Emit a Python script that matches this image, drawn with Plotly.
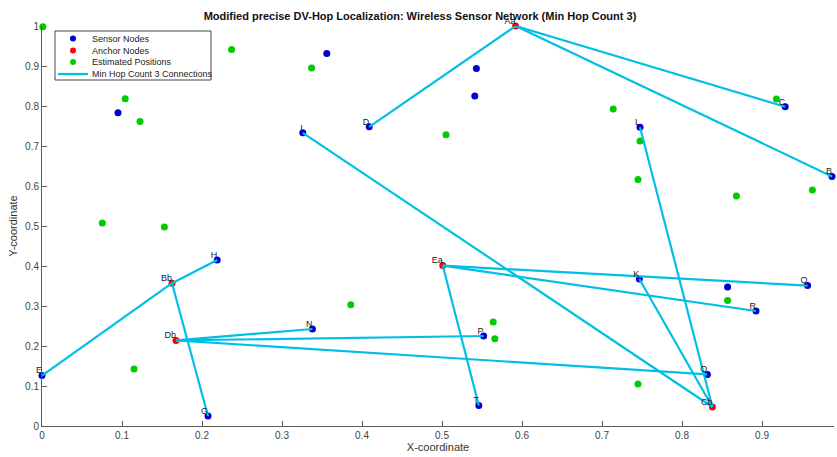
import plotly.graph_objects as go

# Sensor nodes
sensor_labels = ["B", "C", "D", "E", "G", "H", "I", "K", "L", "N", "O", "P", "Q", "R", "T",
                 "", "", "", "", ""]
sensor_x = [0.9875, 0.929, 0.409, 0.0, 0.2075, 0.219, 0.326, 0.7467, 0.7475, 0.338, 0.8317, 0.552, 0.957, 0.8925, 0.546,
            0.356, 0.095, 0.543, 0.541, 0.857]
sensor_y = [0.624, 0.798, 0.748, 0.126, 0.025, 0.415, 0.733, 0.3675, 0.747, 0.2425, 0.129, 0.225, 0.351, 0.2875, 0.051,
            0.931, 0.783, 0.894, 0.825, 0.3475]

# Anchor nodes
anchor_labels = ["Aa", "Bb", "Cb", "Db", "Ea"]
anchor_x = [0.592, 0.1625, 0.838, 0.1675, 0.501]
anchor_y = [1.0, 0.357, 0.0475, 0.214, 0.401]

# Estimated positions
est_x = [0.001, 0.237, 0.337, 0.104, 0.1225, 0.0754, 0.153, 0.386, 0.115, 0.505,
         0.714, 0.918, 0.7475, 0.745, 0.868, 0.963, 0.857, 0.564, 0.566, 0.745]
est_y = [0.998, 0.941, 0.895, 0.818, 0.761, 0.5075, 0.4975, 0.303, 0.1425, 0.728,
         0.7925, 0.8175, 0.7125, 0.616, 0.575, 0.59, 0.314, 0.26, 0.218, 0.105]

# Connections (anchor -> sensor)
conn_anchor = ["Aa", "Aa", "Aa", "Bb", "Bb", "Bb", "Cb", "Cb", "Cb", "Db", "Db", "Db", "Ea", "Ea", "Ea"]
conn_sensor = ["D", "C", "B", "H", "E", "G", "I", "L", "K", "N", "P", "O", "Q", "R", "T"]

legend_names = ["Sensor Nodes", "Anchor Nodes", "Estimated Positions", "Min Hop Count 3 Connections"]
title = "Modified precise DV-Hop Localization: Wireless Sensor Network (Min Hop Count 3)"

BLUE = "#0000d0"
RED = "#ff0000"
GREEN = "#00cc00"
CYAN = "#00bfe6"
FONT = "Liberation Sans, Arial"

W, H = 837, 457
L, R, T, B = 42, 3, 26, 31
PW, PH = W - L - R, H - T - B


def px(xp):
    return (xp - L) / PW


def py(yp):
    return (H - B - yp) / PH


lx, ly = [], []
for a, s in zip(conn_anchor, conn_sensor):
    ai = anchor_labels.index(a)
    si = sensor_labels.index(s)
    lx += [anchor_x[ai], sensor_x[si], None]
    ly += [anchor_y[ai], sensor_y[si], None]

fig = go.Figure()
fig.add_trace(go.Scatter(x=sensor_x, y=sensor_y, mode="markers", name=legend_names[0],
                         marker=dict(color=BLUE, size=7), cliponaxis=False))
fig.add_trace(go.Scatter(x=anchor_x, y=anchor_y, mode="markers", name=legend_names[1],
                         marker=dict(color=RED, size=7), cliponaxis=False))
fig.add_trace(go.Scatter(x=est_x, y=est_y, mode="markers", name=legend_names[2],
                         marker=dict(color=GREEN, size=7), cliponaxis=False))
fig.add_trace(go.Scatter(x=lx, y=ly, mode="lines", name=legend_names[3],
                         line=dict(color=CYAN, width=2.2), cliponaxis=False))
fig.add_trace(go.Scatter(x=sensor_x + anchor_x, y=sensor_y + anchor_y, mode="text",
                         text=sensor_labels + anchor_labels, textposition="top left",
                         textfont=dict(family=FONT, size=9, color="#222222"),
                         showlegend=False, hoverinfo="skip", cliponaxis=False))

# compact legend box (MATLAB style)
shapes = [dict(type="rect", xref="paper", yref="paper", x0=px(55), x1=px(211), y0=py(31), y1=py(80),
               line=dict(color="#444444", width=1), fillcolor="white", layer="above")]
annotations = []
row_y = [38.5, 50.5, 62, 74]
colors = [BLUE, RED, GREEN]
for i, name in enumerate(legend_names):
    if i < 3:
        shapes.append(dict(type="circle", xref="paper", yref="paper",
                           x0=px(70), x1=px(76), y0=py(row_y[i] + 3), y1=py(row_y[i] - 3),
                           fillcolor=colors[i], line=dict(color=colors[i], width=0), layer="above"))
    else:
        shapes.append(dict(type="line", xref="paper", yref="paper",
                           x0=px(58), x1=px(88), y0=py(row_y[i]), y1=py(row_y[i]),
                           line=dict(color=CYAN, width=2.2), layer="above"))
    annotations.append(dict(text=name, xref="paper", yref="paper", x=px(90), y=py(row_y[i]),
                            xanchor="left", yanchor="middle", showarrow=False,
                            font=dict(family=FONT, size=9, color="#222222")))

axis_common = dict(showgrid=False, zeroline=False, showline=True, linecolor="#5a5a5a", linewidth=1,
                   ticks="inside", ticklen=5, tickcolor="#5a5a5a", dtick=0.1, automargin=False,
                   tickfont=dict(family=FONT, size=10, color="#444444"), mirror=False)

fig.update_layout(
    width=W, height=H,
    margin=dict(l=L, r=R, t=T, b=B),
    paper_bgcolor="white", plot_bgcolor="white",
    title=dict(text="<b>" + title + "</b>", x=420 / W, xanchor="center",
               y=1 - 16 / H, yanchor="middle",
               font=dict(family=FONT, size=11, color="#111111")),
    xaxis=dict(range=[0, 0.99], tick0=0, title=dict(text="X-coordinate", standoff=2,
               font=dict(family=FONT, size=11, color="#333333")), **axis_common),
    yaxis=dict(range=[0, 1], tick0=0, title=dict(text="Y-coordinate", standoff=5,
               font=dict(family=FONT, size=11, color="#333333")), **axis_common),
    shapes=shapes,
    annotations=annotations,
    showlegend=False,
)

fig.write_html("out.html", config={"displayModeBar": False},
               post_script="document.body.style.margin='0';document.body.style.overflow='hidden';")
